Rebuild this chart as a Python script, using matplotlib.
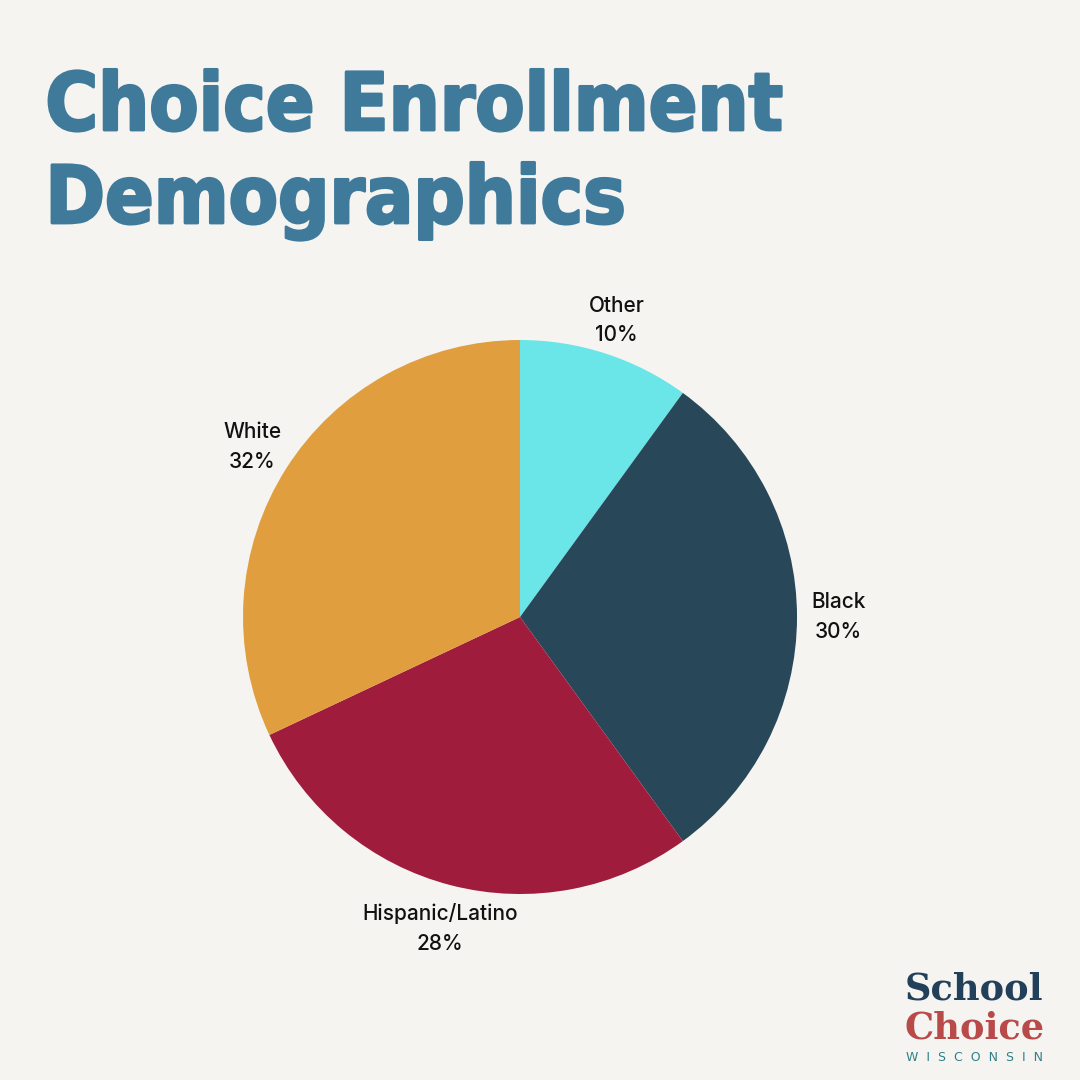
import matplotlib
matplotlib.use('Agg')
import matplotlib.pyplot as plt
import matplotlib.patheffects as pe
import numpy as np

# Data
categories = ['Other', 'Black', 'Hispanic/Latino', 'White']
shares = [10, 30, 28, 32]
colors = ['#6AE5E8', '#28485A', '#A01C3C', '#E09E3E']
label_dist = [1.125, 1.15, 1.16, 1.145]

title_lines = ['Choice Enrollment', 'Demographics']
bg = '#F5F4F1'
title_color = '#3F7A9A'

fig = plt.figure(figsize=(10.8, 10.8), dpi=100, facecolor=bg)

# Title (condensed bold + a thin stroke for the heavy look)
heavy = [pe.withStroke(linewidth=2.0, foreground=title_color)]
for i, line in enumerate(title_lines):
    fig.text(0.042, 0.8796 - i * 0.0861, line, fontsize=57.5, fontweight='bold',
             family='DejaVu Sans', fontstretch='condensed', color=title_color,
             ha='left', va='baseline', path_effects=heavy)

# Pie
ax = fig.add_axes([0.1609, 0.1081, 0.6412, 0.6412])
ax.set_facecolor(bg)
labels = [f'{c}\n{s}%' for c, s in zip(categories, shares)]
wedges, texts = ax.pie(shares, labels=labels, colors=colors, startangle=90,
                       counterclock=False, labeldistance=1.15,
                       textprops=dict(fontsize=15, family='Inter', fontweight='medium',
                                      color='#111111', linespacing=1.6))
for w, t, d in zip(wedges, texts, label_dist):
    ang = np.deg2rad((w.theta1 + w.theta2) / 2)
    t.set_position((d * np.cos(ang), d * np.sin(ang)))
    t.set_ha('center')
    t.set_va('center')
ax.set_xlim(-1.25, 1.25)
ax.set_ylim(-1.25, 1.25)
ax.set_aspect('equal')
ax.axis('off')

# Logo
fig.text(0.902, 0.0745, 'School', fontsize=26.5, fontweight='bold', family='DejaVu Serif',
         color='#22405A', ha='center', va='baseline')
fig.text(0.902, 0.0385, 'Choice', fontsize=26.5, fontweight='bold', family='DejaVu Serif',
         color='#B84A4A', ha='center', va='baseline')
fig.text(0.902, 0.0175, 'W  I  S  C  O  N  S  I  N', fontsize=9, family='DejaVu Sans',
         color='#2E8089', ha='center', va='baseline')

fig.savefig('out.png', dpi=100, facecolor=bg)
